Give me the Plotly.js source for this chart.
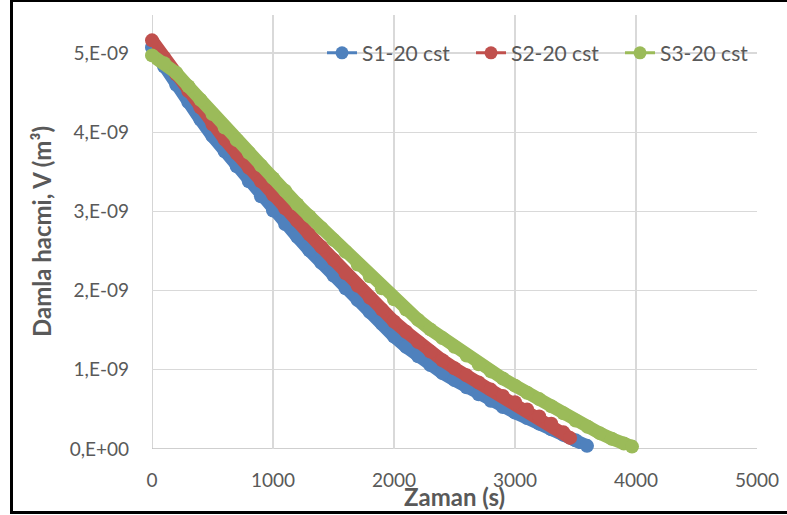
<!DOCTYPE html>
<html>
<head>
<meta charset="utf-8">
<script src="https://cdn.plot.ly/plotly-3.0.1.min.js"></script>
<style>
  html, body { margin: 0; padding: 0; background: #fff; }
  #wrap { position: relative; width: 787px; height: 515px; overflow: hidden; }
  #chart { width: 787px; height: 515px; }
  #frame { position: absolute; left: 10px; top: -1px; width: 800px; height: 515px;
           border: 3px solid #000; pointer-events: none; box-sizing: border-box; }
</style>
</head>
<body>
<div id="wrap">
  <div id="chart"></div>
  <div id="frame"></div>
</div>
<script>
// Time (s)
const tS1 = [0,100,200,300,400,500,600,700,800,900,1000,1100,1200,1300,1400,1500,1600,1700,1800,1900,2000,2100,2200,2300,2400,2500,2600,2700,2800,2900,3000,3100,3200,3300,3400,3500,3595];
// Drop volume (x 1e-9 m3)
const vS1 = [5.07,4.83,4.60,4.38,4.16,3.95,3.76,3.57,3.38,3.19,3.01,2.84,2.68,2.51,2.35,2.19,2.03,1.88,1.73,1.58,1.42,1.29,1.17,1.06,0.96,0.87,0.78,0.69,0.61,0.53,0.46,0.39,0.32,0.25,0.18,0.11,0.04];

const tS2 = [0,100,200,300,400,500,600,700,800,900,1000,1100,1200,1300,1400,1500,1600,1700,1800,1900,2000,2100,2200,2300,2400,2500,2600,2700,2800,2900,3000,3100,3200,3300,3400,3455];
const vS2 = [5.16,4.94,4.73,4.52,4.31,4.10,3.91,3.73,3.55,3.38,3.21,3.04,2.88,2.71,2.55,2.39,2.22,2.06,1.91,1.76,1.61,1.48,1.35,1.23,1.12,1.02,0.93,0.84,0.75,0.67,0.59,0.50,0.41,0.32,0.21,0.14];

const tS3 = [0,100,200,300,400,500,600,700,800,900,1000,1100,1200,1300,1400,1500,1600,1700,1800,1900,2000,2100,2200,2300,2400,2500,2600,2700,2800,2900,3000,3100,3200,3300,3400,3500,3600,3700,3800,3900,3967];
const vS3 = [4.97,4.87,4.75,4.58,4.41,4.23,4.06,3.90,3.74,3.58,3.42,3.26,3.09,2.94,2.79,2.64,2.49,2.33,2.18,2.03,1.89,1.76,1.63,1.51,1.40,1.29,1.18,1.07,0.98,0.89,0.80,0.71,0.63,0.54,0.45,0.36,0.28,0.20,0.13,0.07,0.03];

const seriesNames = ["S1-20 cst", "S2-20 cst", "S3-20 cst"];
const seriesColors = ["#4F81BD", "#C0504D", "#9BBB59"];

const xTickVals = [0,1000,2000,3000,4000,5000];
const yTickVals = [0,1,2,3,4,5];
const yTickText = ["0,E+00","1,E-09","2,E-09","3,E-09","4,E-09","5,E-09"];

const FONT = "Lato, 'Open Sans', sans-serif";
const GRAY = "#595959";
const GRID = "#d9d9d9";

const xs = [tS1, tS2, tS3];
const ys = [vS1, vS2, vS3];

const traces = [];
for (let i = 0; i < 3; i++) {
  traces.push({
    x: xs[i], y: ys[i], type: "scatter", mode: "lines+markers",
    name: seriesNames[i], legendgroup: "g" + i, showlegend: false,
    line: { color: seriesColors[i], width: 13 },
    marker: { color: seriesColors[i], size: 14 },
    cliponaxis: false, hoverinfo: "x+y+name"
  });
}
for (let i = 0; i < 3; i++) {
  traces.push({
    x: [null], y: [null], type: "scatter", mode: "lines+markers",
    name: seriesNames[i], legendgroup: "g" + i, showlegend: true,
    line: { color: seriesColors[i], width: 3 },
    marker: { color: seriesColors[i], size: 13 }
  });
}

const layout = {
  width: 787, height: 515,
  margin: { l: 152, r: 30, t: 15, b: 66 },
  paper_bgcolor: "#fff", plot_bgcolor: "#fff",
  font: { family: FONT, size: 19, color: GRAY },
  showlegend: true,
  legend: {
    orientation: "h", x: 0.281, y: 0.912, xanchor: "left", yanchor: "middle",
    font: { family: FONT, size: 21, color: GRAY },
    bgcolor: "rgba(255,255,255,0)", itemwidth: 30, tracegroupgap: 0,
    entrywidth: 104, entrywidthmode: "pixels"
  },
  xaxis: {
    range: [0, 5000], tickvals: xTickVals, showgrid: true, gridcolor: GRID, gridwidth: 1.3,
    zeroline: false, showline: false, ticks: "", ticklabelstandoff: 18,
    tickfont: { family: FONT, size: 19, color: GRAY }, fixedrange: true
  },
  yaxis: {
    range: [0, 5.48], tickvals: yTickVals, ticktext: yTickText, showgrid: true, gridcolor: GRID, gridwidth: 1.3,
    zeroline: false, showline: false, ticks: "", ticklabelstandoff: 22,
    tickfont: { family: FONT, size: 19, color: GRAY }, fixedrange: true
  },
  shapes: [
    { type: "line", xref: "x", yref: "paper", x0: 0, x1: 0, y0: 0, y1: 1, line: { color: "#bfbfbf", width: 1.3 }, layer: "below" },
    { type: "line", xref: "paper", yref: "y", x0: 0, x1: 1, y0: 0, y1: 0, line: { color: "#bfbfbf", width: 1.3 }, layer: "below" }
  ],
  annotations: [
    { text: "<b>Zaman (s)</b>", xref: "paper", yref: "paper", x: 0.5, y: (449 - 496) / 434,
      xanchor: "center", yanchor: "middle", showarrow: false,
      font: { family: FONT, size: 24, color: GRAY } },
    { text: "<b>Damla hacmi, V (m³)</b>", xref: "paper", yref: "paper", x: (41 - 152) / 605, y: 0.5,
      xanchor: "center", yanchor: "middle", showarrow: false, textangle: -90,
      font: { family: FONT, size: 24, color: GRAY } }
  ]
};

Plotly.newPlot("chart", traces, layout, { displayModeBar: false, staticPlot: true });
</script>
</body>
</html>
